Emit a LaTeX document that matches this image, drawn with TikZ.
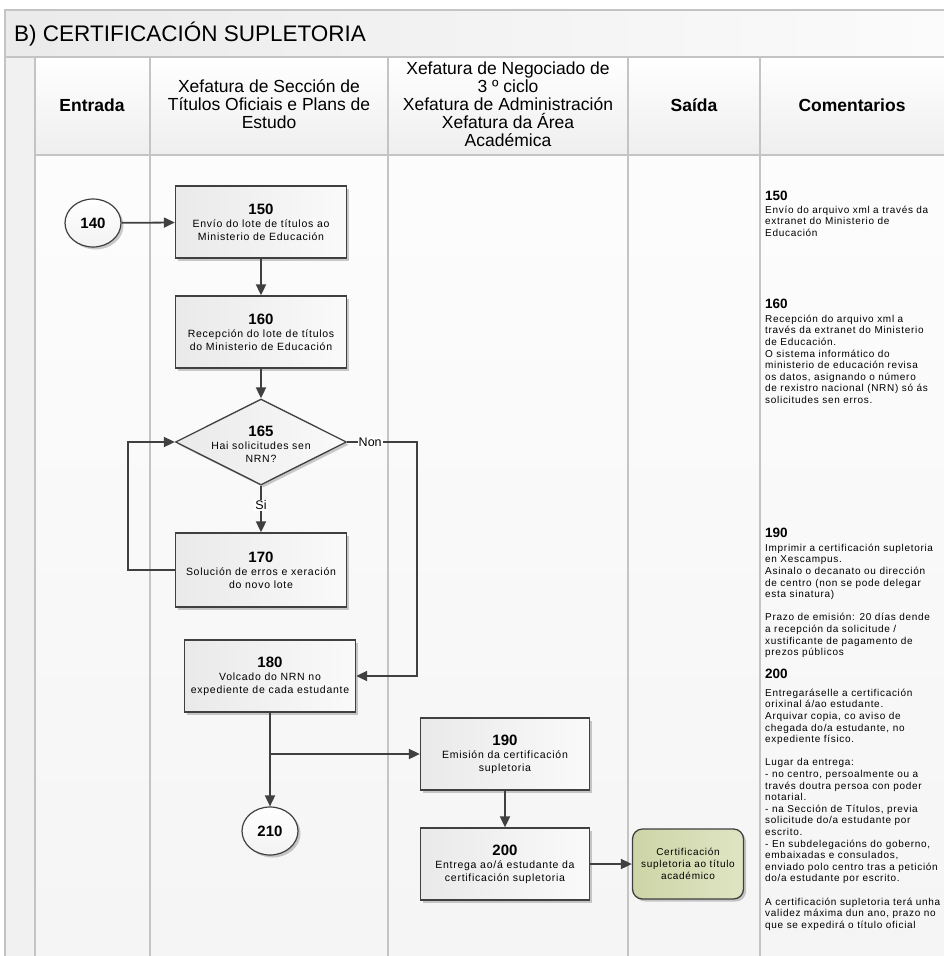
\documentclass[tikz,border=0pt]{standalone}
\usepackage{fontspec}
\setmainfont{Liberation Sans}
\newfontfamily\spfam[LetterSpace=7]{Liberation Sans}
\newfontfamily\spfamc[LetterSpace=7]{Liberation Sans}
\usetikzlibrary{arrows.meta,shapes.geometric,shadows}
\definecolor{laneline}{HTML}{C4C4C4}
\definecolor{edgec}{HTML}{404040}
\definecolor{outa}{HTML}{CDD5A6}
\definecolor{outb}{HTML}{DFE5C4}
\newcommand\myboxfont{\spfam\fontsize{10.5}{13}\selectfont}
\newcommand\mynum[1]{{\rmfamily\bfseries\fontsize{15}{15}\selectfont #1}}
\newcommand\mycmfont{\spfamc\fontsize{10}{11.6}\selectfont}
\newcommand\mycnum[1]{{\rmfamily\bfseries\fontsize{13.5}{13.5}\selectfont #1}}
\newcommand\myhead{\fontsize{17.5}{18}\selectfont}
\begin{document}
\begin{tikzpicture}[x=1pt,y=-1pt,
  lanel/.style={draw=laneline, line width=1.6pt},
  shad/.style={drop shadow={shadow xshift=2.5pt, shadow yshift=-2.5pt, fill=black, opacity=0.2}},
  proc/.style={shad, draw=edgec, line width=1.3pt, left color=gray!17, right color=gray!4,
    minimum width=171pt, minimum height=72pt, align=center, inner sep=1pt, font=\myboxfont},
  dec/.style={shad, diamond, draw=edgec, line width=1.3pt, left color=gray!17, right color=gray!4,
    minimum width=171pt, minimum height=86pt, inner sep=0pt},
  term/.style={shad, ellipse, draw=edgec, line width=1.2pt, top color=white, bottom color=gray!10,
    minimum width=56pt, minimum height=48pt, inner sep=0pt, font=\bfseries\fontsize{15}{15}\selectfont},
  outn/.style={shad, rounded corners=10pt, draw=edgec, line width=1.3pt, left color=outa, right color=outb,
    minimum width=111pt, minimum height=70pt, align=center, inner sep=1pt, font=\spfam\fontsize{10}{12}\selectfont},
  arr/.style={draw=edgec, line width=1.8pt, -{Triangle[length=11pt,width=10pt]}},
  lbl/.style={fill=white, inner sep=1pt, font=\fontsize{12.5}{12.5}\selectfont},
  headt/.style={align=center, font=\myhead, inner sep=0pt},
  cmt/.style={anchor=north west, align=left, inner sep=0pt, font=\mycmfont}
]
\useasboundingbox (0,0) rectangle (944,956);
\fill[white] (0,0) rectangle (944,956);
% title band
\path[left color=gray!16, right color=gray!3] (5,10) rectangle (950,57);
% left strip
\path[fill=gray!11] (5,57) rectangle (35,960);
% header cells and lane bodies
\foreach \a/\b in {35/150,150/388,388/628,628/760,760/950} {
  \path[top color=white, bottom color=gray!13] (\a,57) rectangle (\b,155);
  \path[top color=gray!2, bottom color=gray!8] (\a,155) rectangle (\b,960);
}
% frame lines
\draw[lanel] (5,960) -- (5,10) -- (950,10);
\draw[lanel] (5,57) -- (950,57);
\draw[lanel] (35,155) -- (950,155);
\foreach \x in {35,150,388,628,760} { \draw[lanel] (\x,57) -- (\x,960); }

% title
\node[anchor=west, inner sep=0pt, font=\fontsize{22.5}{24}\selectfont] (title) at (14,34) {B) CERTIFICACIÓN SUPLETORIA};

% headers
\node[headt, font=\myhead\bfseries] (h1) at (92,105) {Entrada};
\node[headt] (h2) at (269,104) {Xefatura de Sección de\\Títulos Oficiais e Plans de\\Estudo};
\node[headt] (h3) at (508,104) {Xefatura de Negociado de\\3 º ciclo\\Xefatura de Administración\\Xefatura da Área\\Académica};
\node[headt, font=\myhead\bfseries] (h4) at (694,105) {Saída};
\node[headt, font=\myhead\bfseries] (h5) at (852,105) {Comentarios};

% flow nodes
\node[term] (c140) at (93,223) {140};
\node[proc] (b150) at (261,222) {\mynum{150}\\Envío do lote de títulos ao\\Ministerio de Educación};
\node[proc] (b160) at (261,332) {\mynum{160}\\Recepción do lote de títulos\\do Ministerio de Educación};
\node[dec] (d165) at (261,442) {};
\node[align=center, inner sep=0pt, font=\myboxfont] (t165) at (261,444) {\mynum{165}\\Hai solicitudes sen\\NRN?};
\node[proc, minimum height=74pt] (b170) at (261,570) {\mynum{170}\\Solución de erros e xeración\\do novo lote};
\node[proc] (b180) at (270,676) {\mynum{180}\\Volcado do NRN no\\expediente de cada estudante};
\node[term] (c210) at (270,831) {210};
\node[proc, minimum width=169pt] (b190) at (505,754) {\mynum{190}\\Emisión da certificación\\supletoria};
\node[proc, minimum width=169pt] (b200) at (505,864) {\mynum{200}\\Entrega ao/á estudante da\\certificación supletoria};
\node[outn] (o1) at (688,864) {Certificación\\supletoria ao título\\académico};

% connectors
\coordinate (nonR) at (417,442);
\coordinate (loopL) at (128,570);
\coordinate (br) at (270,754);
\draw[arr] (c140) -- (b150);
\draw[arr] (b150) -- (b160);
\draw[arr] (b160) -- (d165);
\draw[arr] (d165) -- node[lbl, pos=0.42] {Si} (b170);
\draw[arr] (b170.west) -- (loopL) |- (d165.west);
\draw[arr] (d165.east) -- node[lbl, pos=0.33] {Non} (nonR) |- (b180.east);
\draw[arr] (b180) -- (c210);
\draw[arr] (br) -- (b190.west);
\draw[arr] (b190) -- (b200);
\draw[arr] (b200) -- (o1);

% comments
\node[cmt] (k150) at (765,191) {\mycnum{150}\\[1pt]Envío do arquivo xml a través da\\extranet do Ministerio de\\Educación};
\node[cmt] (k160) at (765,299) {\mycnum{160}\\[2pt]Recepción do arquivo xml a\\través da extranet do Ministerio\\de Educación.\\O sistema informático do\\ministerio de educación revisa\\os datos, asignando o número\\de rexistro nacional (NRN) só ás\\solicitudes sen erros.};
\node[cmt] (k190) at (765,528) {\mycnum{190}\\[2pt]Imprimir a certificación supletoria\\en Xescampus.\\Asinalo o decanato ou dirección\\de centro (non se pode delegar\\esta sinatura)\\[11.6pt]Prazo de emisión: 20 días dende\\a recepción da solicitude /\\xustificante de pagamento de\\prezos públicos};
\node[cmt] (k200) at (765,669) {\mycnum{200}\\[6pt]Entregaráselle a certificación\\orixinal á/ao estudante.\\Arquivar copia, co aviso de\\chegada do/a estudante, no\\expediente físico.\\[11.6pt]Lugar da entrega:\\- no centro, persoalmente ou a\\través doutra persoa con poder\\notarial.\\- na Sección de Títulos, previa\\solicitude do/a estudante por\\escrito.\\- En subdelegacións do goberno,\\embaixadas e consulados,\\enviado polo centro tras a petición\\do/a estudante por escrito.\\[11.6pt]A certificación supletoria terá unha\\validez máxima dun ano, prazo no\\que se expedirá o título oficial};
\end{tikzpicture}
\end{document}
